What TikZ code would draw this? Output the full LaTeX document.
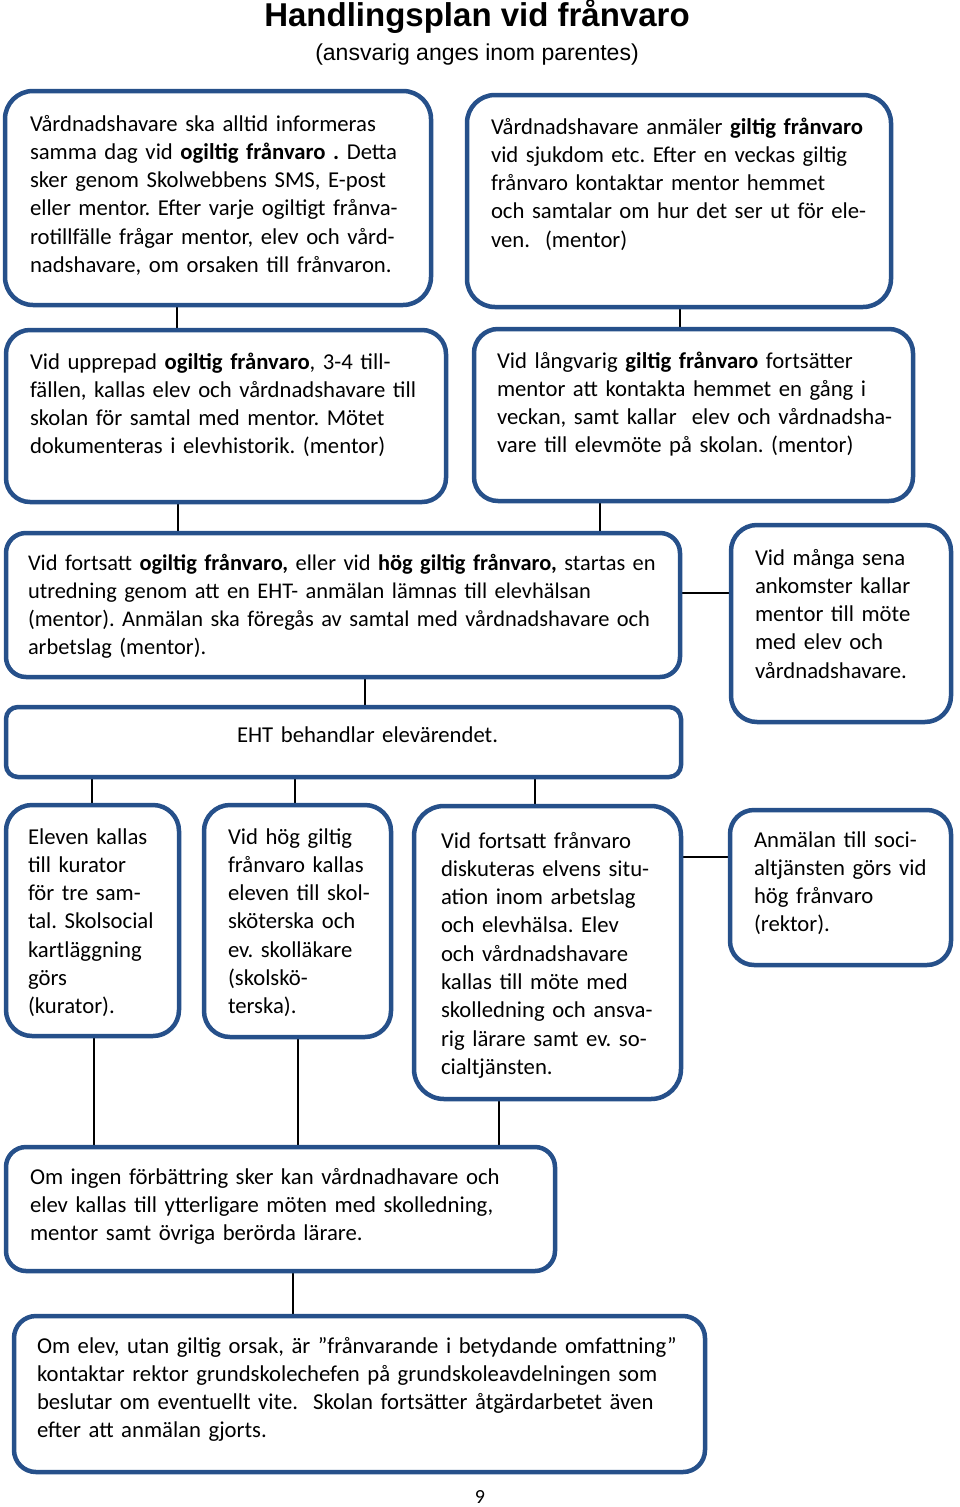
\documentclass[tikz,border=0pt]{standalone}
\usepackage{fontspec}
\setmainfont{Carlito}
\newfontfamily\arialf{Liberation Sans}
\usetikzlibrary{fit,backgrounds}
\definecolor{boxblue}{RGB}{38,80,138}
\frenchspacing
\tikzset{
  box/.style={draw=boxblue, line width=4.5pt, fill=white, inner sep=0pt, outer sep=0pt},
  conn/.style={draw=black, line width=1.4pt},
  txt/.style={anchor=base west, inner sep=0pt, outer sep=0pt, align=left, text width=700pt,
    font=\fontsize{22.7}{28.3}\selectfont},
}
\begin{document}
\begin{tikzpicture}[x=1pt,y=-1pt]
\useasboundingbox (0,0) rectangle (960,1507);

% title
\node[inner sep=0pt, anchor=base, font=\arialf\bfseries\fontsize{33}{36}\selectfont] (title) at (477,27) {Handlingsplan vid frånvaro};
\node[inner sep=0pt, anchor=base, font=\arialf\fontsize{23}{26}\selectfont] (subtitle) at (477,60) {(ansvarig anges inom parentes)};

% boxes
\node[box, rounded corners=28pt, fit={(5,91) (431,305)}] (A) {};
\node[box, rounded corners=28pt, fit={(467,95) (891,307)}] (B) {};
\node[box, rounded corners=24pt, fit={(6,330) (446,502)}] (C) {};
\node[box, rounded corners=24pt, fit={(474,329) (913,501)}] (D) {};
\node[box, rounded corners=20pt, fit={(6,533) (680,677)}] (E) {};
\node[box, rounded corners=26pt, fit={(731,525) (951,722)}] (F) {};
\node[box, rounded corners=12pt, fit={(6,707) (681,777)}] (G) {};
\node[box, rounded corners=26pt, fit={(6,805) (179,1036)}] (H) {};
\node[box, rounded corners=26pt, fit={(204,805) (391,1037)}] (I) {};
\node[box, rounded corners=30pt, fit={(414,806) (681,1099)}] (J) {};
\node[box, rounded corners=24pt, fit={(730,810) (951,965)}] (K) {};
\node[box, rounded corners=20pt, fit={(6,1147) (555,1271)}] (L) {};
\node[box, rounded corners=22pt, fit={(14,1316) (705,1472)}] (M) {};

% connectors
\coordinate (xAC) at (177,0);
\coordinate (xBD) at (680,0);
\coordinate (xCE) at (178,0);
\coordinate (xDE) at (600,0);
\coordinate (xEG) at (365,0);
\coordinate (xGH) at (92,0);
\coordinate (xGI) at (295,0);
\coordinate (xGJ) at (535,0);
\coordinate (xHL) at (94,0);
\coordinate (xIL) at (298,0);
\coordinate (xJL) at (499,0);
\coordinate (xLM) at (293,0);
\coordinate (yEF) at (0,593);
\coordinate (yJK) at (0,857);
\begin{pgfonlayer}{background}
\draw[conn] (xAC |- A.south) -- (xAC |- C.north);
\draw[conn] (xBD |- B.south) -- (xBD |- D.north);
\draw[conn] (xCE |- C.south) -- (xCE |- E.north);
\draw[conn] (xDE |- D.south) -- (xDE |- E.north);
\draw[conn] (E.east |- yEF) -- (F.west |- yEF);
\draw[conn] (xEG |- E.south) -- (xEG |- G.north);
\draw[conn] (xGH |- G.south) -- (xGH |- H.north);
\draw[conn] (xGI |- G.south) -- (xGI |- I.north);
\draw[conn] (xGJ |- G.south) -- (xGJ |- J.north);
\draw[conn] (J.east |- yJK) -- (K.west |- yJK);
\draw[conn] (xHL |- H.south) -- (xHL |- L.north);
\draw[conn] (xIL |- I.south) -- (xIL |- L.north);
\draw[conn] (xJL |- J.south) -- (xJL |- L.north);
\draw[conn] (xLM |- L.south) -- (xLM |- M.north);
\end{pgfonlayer}

% texts
\node[txt] (At) at (30,131) {Vårdnadshavare ska alltid informeras\\
samma dag vid \textbf{ogiltig frånvaro .} Detta\\
sker genom Skolwebbens SMS, E-post\\
eller mentor. Efter varje ogiltigt frånva-\\
rotillfälle frågar mentor, elev och vård-\\
nadshavare, om orsaken till frånvaron.};

\node[txt] (Bt) at (491,134) {Vårdnadshavare anmäler \textbf{giltig frånvaro}\\
vid sjukdom etc. Efter en veckas giltig\\
frånvaro kontaktar mentor hemmet\\
och samtalar om hur det ser ut för ele-\\
ven.\ \ (mentor)};

\node[txt] (Ct) at (30,369) {Vid upprepad \textbf{ogiltig frånvaro}, 3-4 till-\\
fällen, kallas elev och vårdnadshavare till\\
skolan för samtal med mentor. Mötet\\
dokumenteras i elevhistorik. (mentor)};

\node[txt] (Dt) at (497,368) {Vid långvarig \textbf{giltig frånvaro} fortsätter\\
mentor att kontakta hemmet en gång i\\
veckan, samt kallar\ \ elev och vårdnadsha-\\
vare till elevmöte på skolan. (mentor)};

\node[txt, font=\fontsize{22.4}{28.3}\selectfont] (Et) at (28,570) {Vid fortsatt \textbf{ogiltig frånvaro,} eller vid \textbf{hög giltig frånvaro,} startas en\\
utredning genom att en EHT- anmälan lämnas till elevhälsan\\
(mentor). Anmälan ska föregås av samtal med vårdnadshavare och\\
arbetslag (mentor).};

\node[txt] (Ft) at (755,565) {Vid många sena\\ankomster kallar\\mentor till möte\\med elev och\\vårdnadshavare.};

\node[txt] (Gt) at (237,742) {EHT behandlar elevärendet.};

\node[txt] (Ht) at (28,844) {Eleven kallas\\till kurator\\för tre sam-\\tal. Skolsocial\\kartläggning\\görs\\(kurator).};

\node[txt] (It) at (228,844) {Vid hög giltig\\frånvaro kallas\\eleven till skol-\\sköterska och\\ev. skolläkare\\(skolskö-\\terska).};

\node[txt] (Jt) at (441,848) {Vid fortsatt frånvaro\\diskuteras elvens situ-\\ation inom arbetslag\\och elevhälsa. Elev\\och vårdnadshavare\\kallas till möte med\\skolledning och ansva-\\rig lärare samt ev. so-\\cialtjänsten.};

\node[txt] (Kt) at (754,847) {Anmälan till soci-\\altjänsten görs vid\\hög frånvaro\\(rektor).};

\node[txt] (Lt) at (30,1184) {Om ingen förbättring sker kan vårdnadhavare och\\
elev kallas till ytterligare möten med skolledning,\\
mentor samt övriga berörda lärare.};

\node[txt] (Mt) at (37,1353) {Om elev, utan giltig orsak, är ”frånvarande i betydande omfattning”\\
kontaktar rektor grundskolechefen på grundskoleavdelningen som\\
beslutar om eventuellt vite.\ \ Skolan fortsätter åtgärdarbetet även\\
efter att anmälan gjorts.};

\node[inner sep=0pt, anchor=base, font=\fontsize{20}{22}\selectfont] (page) at (480,1503) {9};
\end{tikzpicture}
\end{document}
